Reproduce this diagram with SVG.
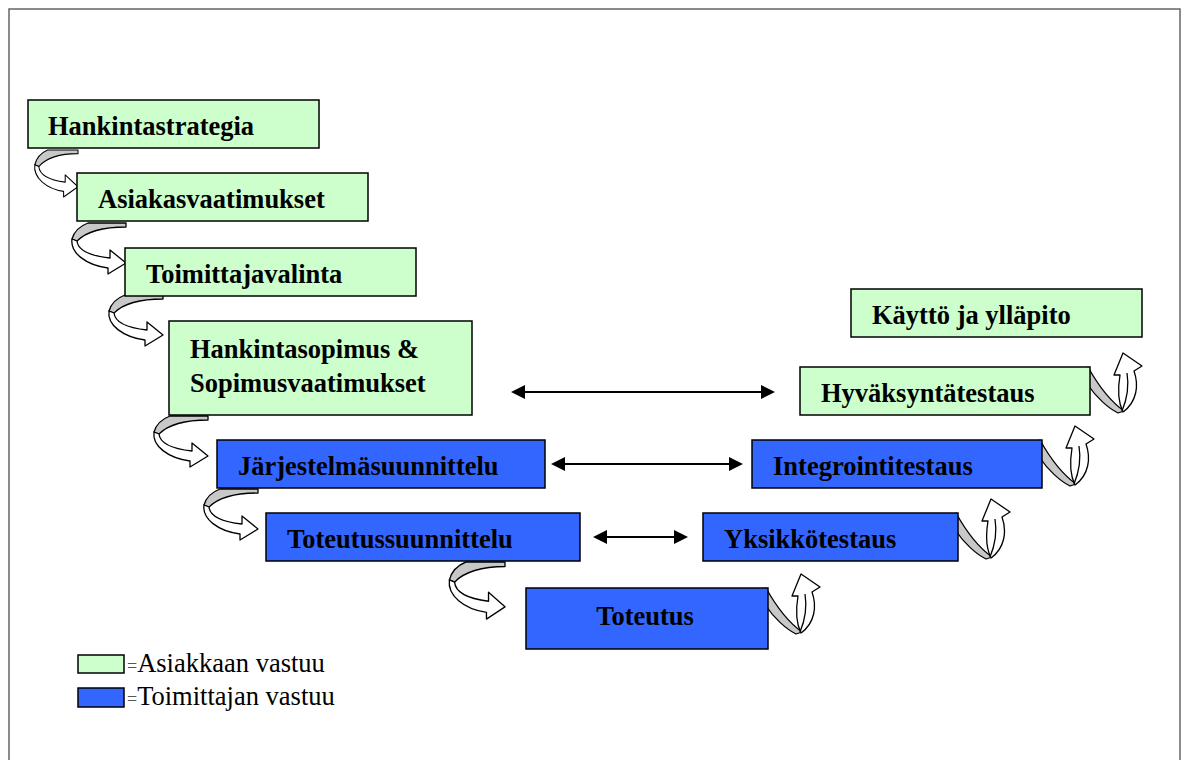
<svg xmlns="http://www.w3.org/2000/svg" width="1185" height="760" viewBox="0 0 1185 760">
<style>
.g{fill:#CCFFCC;stroke:#000;stroke-width:1.5}
.b{fill:#3366FF;stroke:#000;stroke-width:1.5}
.t{font-family:"Liberation Serif","Times New Roman",serif;font-weight:bold;font-size:26.5px;fill:#000}
.lt{font-family:"Liberation Serif","Times New Roman",serif;font-size:26.5px;fill:#000}
.eq{font-size:18px;fill:#555}
.sh{fill:#C8C8C8;stroke:#000;stroke-width:1.3;stroke-linejoin:round}
.wa{fill:#fff;stroke:#000;stroke-width:1.3;stroke-linejoin:round}
.ln{fill:none;stroke:#000;stroke-width:1.3}
.dl{stroke:#000;stroke-width:2;marker-start:url(#ah);marker-end:url(#ah)}
</style>
<defs>
<marker id="ah" markerUnits="userSpaceOnUse" markerWidth="16" markerHeight="16" refX="12" refY="7" orient="auto-start-reverse" viewBox="0 0 16 14">
<path d="M0,0 L14,7 L0,14 Z" fill="#000"/>
</marker>
<g id="ca">
<path class="sh" d="M-38,0 L0,0 L0,4 C-22,4 -40,9 -49,18 L-54,16 C-52,9 -46,3 -38,0 Z"/>
<path class="wa" d="M-54,16 C-56,30 -40,42 -18,45 L-18,51 L0,40 L-16,27 L-16,35 C-34,33 -48,28 -49,18 Z"/>
</g>
<g id="ua">
<path class="sh" d="M-2,0 C8,18 20,34 34,44 L28,46 C18,41 6,30 -2,18 Z"/>
<path class="wa" d="M33,45 C28,35 28,20 30,8 L24,8 L33,-14 L52,-1 L44,4 C49,18 47,35 33,45 Z"/>
<path class="ln" d="M32,44 C37,32 39,18 37,6"/>
</g>
</defs>
<rect x="9" y="9" width="1171" height="800" fill="#fff" stroke="#666" stroke-width="1.5"/>

<g id="connectors">
<use href="#ca" transform="translate(78,150) scale(0.8,0.92)"/>
<use href="#ca" transform="translate(126,223)"/>
<use href="#ca" transform="translate(163,295)"/>
<use href="#ca" transform="translate(208,416)"/>
<use href="#ca" transform="translate(258,489)"/>
<use href="#ca" transform="translate(505,562) scale(1.03,1.12)"/>
<use href="#ua" transform="translate(768,588)"/>
<use href="#ua" transform="translate(958,513)"/>
<use href="#ua" transform="translate(1042,440)"/>
<use href="#ua" transform="translate(1090,367)"/>
<line class="dl" x1="513" y1="392" x2="773" y2="392"/>
<line class="dl" x1="553" y1="464" x2="741" y2="464"/>
<line class="dl" x1="595" y1="537" x2="686" y2="537"/>
</g>

<g id="n1"><rect class="g" x="28" y="100" width="291" height="48"/><text class="t" x="48" y="135">Hankintastrategia</text></g>
<g id="n2"><rect class="g" x="77" y="173" width="291" height="48"/><text class="t" x="98" y="208">Asiakasvaatimukset</text></g>
<g id="n3"><rect class="g" x="125" y="248" width="291" height="48"/><text class="t" x="146" y="283">Toimittajavalinta</text></g>
<g id="n4"><rect class="g" x="169" y="321" width="303" height="94"/><text class="t" x="190" y="358">Hankintasopimus &amp;</text><text class="t" x="190" y="392">Sopimusvaatimukset</text></g>
<g id="n5"><rect class="b" x="217" y="440" width="328" height="48"/><text class="t" x="238" y="475">Järjestelmäsuunnittelu</text></g>
<g id="n6"><rect class="b" x="266" y="513" width="314" height="48"/><text class="t" x="287" y="548">Toteutussuunnittelu</text></g>
<g id="n7"><rect class="b" x="526" y="588" width="242" height="61"/><text class="t" x="645" y="625" text-anchor="middle">Toteutus</text></g>
<g id="n8"><rect class="b" x="703" y="513" width="255" height="48"/><text class="t" x="724" y="548">Yksikkötestaus</text></g>
<g id="n9"><rect class="b" x="752" y="440" width="290" height="48"/><text class="t" x="773" y="475">Integrointitestaus</text></g>
<g id="n10"><rect class="g" x="800" y="367" width="290" height="48"/><text class="t" x="821" y="402">Hyväksyntätestaus</text></g>
<g id="n11"><rect class="g" x="851" y="289" width="291" height="48"/><text class="t" x="872" y="324">Käyttö ja ylläpito</text></g>

<g id="legend">
<rect class="g" x="78" y="655" width="46" height="18"/>
<text class="lt" x="127" y="672"><tspan class="eq">=</tspan>Asiakkaan vastuu</text>
<rect class="b" x="78" y="688" width="46" height="19"/>
<text class="lt" x="127" y="705"><tspan class="eq">=</tspan>Toimittajan vastuu</text>
</g>
</svg>
